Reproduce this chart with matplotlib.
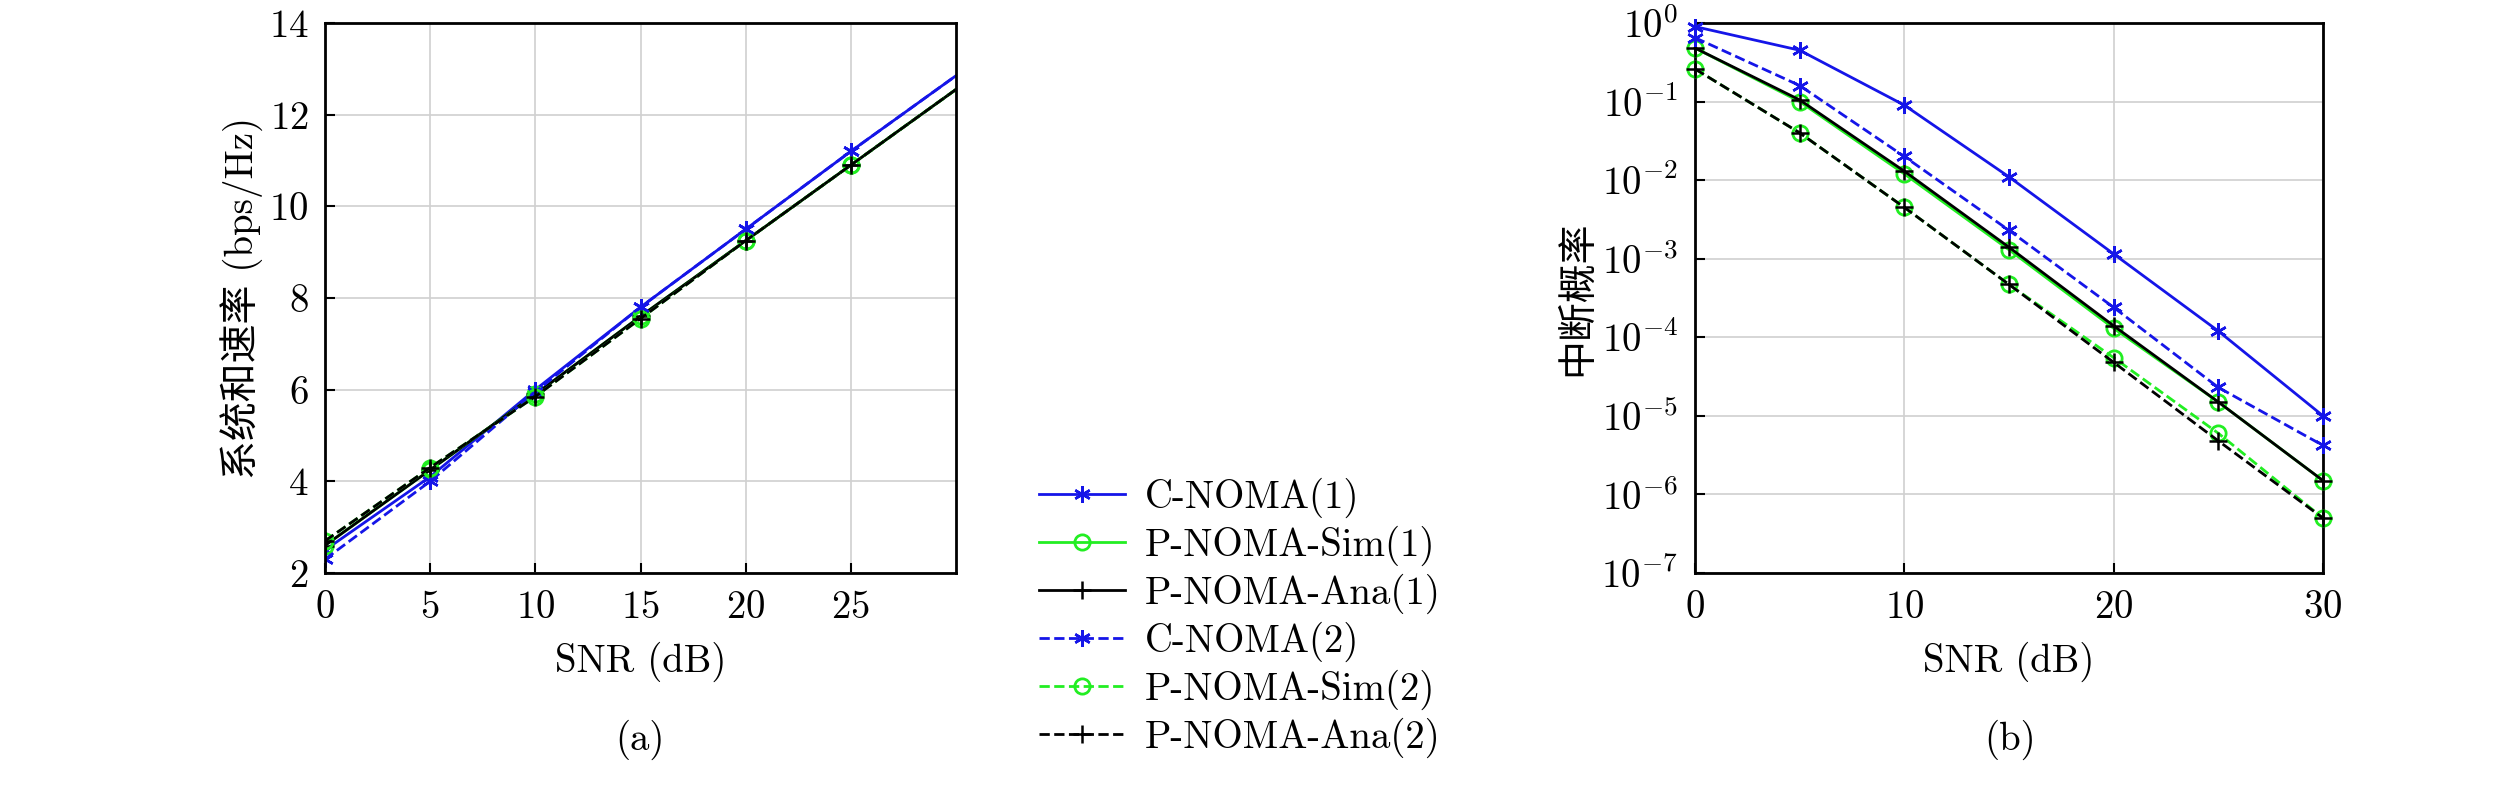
import matplotlib
matplotlib.use("Agg")
import matplotlib.pyplot as plt

plt.rcParams["font.family"] = ["cmr10", "Noto Sans CJK SC"]
plt.rcParams["mathtext.fontset"] = "cm"
plt.rcParams["axes.formatter.use_mathtext"] = True

snr = [0, 5, 10, 15, 20, 25, 30]

# (a) sum rate
rate_c1 = [2.5, 4.1, 6.0, 7.8, 9.5, 11.2, 12.85]
rate_ps1 = [2.6, 4.25, 5.9, 7.6, 9.25, 10.9, 12.55]
rate_pa1 = [2.6, 4.25, 5.9, 7.6, 9.25, 10.9, 12.55]
rate_c2 = [2.3, 4.0, 5.95, 7.8, 9.5, 11.2, 12.85]
rate_ps2 = [2.7, 4.3, 5.85, 7.55, 9.25, 10.9, 12.55]
rate_pa2 = [2.7, 4.3, 5.85, 7.55, 9.25, 10.9, 12.55]

# (b) outage probability
out_c1 = [0.9, 0.45, 0.09, 0.011, 1.15e-3, 1.2e-4, 1.0e-5]
out_ps1 = [0.48, 0.1, 0.012, 1.3e-3, 1.3e-4, 1.5e-5, 1.5e-6]
out_pa1 = [0.48, 0.105, 0.013, 1.4e-3, 1.4e-4, 1.5e-5, 1.5e-6]
out_c2 = [0.65, 0.16, 0.02, 2.3e-3, 2.4e-4, 2.3e-5, 4.2e-6]
out_ps2 = [0.26, 0.04, 4.5e-3, 4.7e-4, 5.5e-5, 6.0e-6, 5.0e-7]
out_pa2 = [0.26, 0.04, 4.5e-3, 4.7e-4, 4.8e-5, 4.8e-6, 5.0e-7]

labels = ["C-NOMA(1)", "P-NOMA-Sim(1)", "P-NOMA-Ana(1)",
          "C-NOMA(2)", "P-NOMA-Sim(2)", "P-NOMA-Ana(2)"]
styles = [
    dict(color="#1515e8", ls="-", marker=(6, 2, 0), ms=12, mew=1.8),
    dict(color="#22ee22", ls="-", marker="o", ms=11, mfc="none", mew=2),
    dict(color="black", ls="-", marker="+", ms=13, mew=1.8),
    dict(color="#1515e8", ls="--", marker=(6, 2, 0), ms=12, mew=1.8),
    dict(color="#22ee22", ls="--", marker="o", ms=11, mfc="none", mew=2),
    dict(color="black", ls="--", marker="+", ms=13, mew=1.8),
]

fig = plt.figure(figsize=(25.2, 7.87), dpi=100)
ax1 = fig.add_axes([325 / 2520, 1 - 573 / 787, 631 / 2520, 550 / 787])
ax2 = fig.add_axes([1695 / 2520, 1 - 573 / 787, 628 / 2520, 550 / 787])

fs = 28
rates = [rate_c1, rate_ps1, rate_pa1, rate_c2, rate_ps2, rate_pa2]
outs = [out_c1, out_ps1, out_pa1, out_c2, out_ps2, out_pa2]
handles = []
for r, o, lab, st in zip(rates, outs, labels, styles):
    h, = ax1.plot(snr, r, lw=2, markevery=slice(0, 6), label=lab, **st)
    ax2.plot(snr, o, lw=2, clip_on=False, zorder=3, **st)
    handles.append(h)

ax1.set_xlim(0, 30)
ax1.set_ylim(2, 14)
ax1.set_xticks([0, 5, 10, 15, 20, 25])
ax1.set_yticks(range(2, 15, 2))
ax1.set_xlabel("SNR (dB)", fontsize=fs, labelpad=12)
ax1.set_ylabel("系统和速率 (bps/Hz)", fontsize=fs)

ax2.set_yscale("log")
ax2.set_xlim(0, 30)
ax2.set_ylim(1e-7, 1)
ax2.set_xticks([0, 10, 20, 30])
ax2.set_yticks([10.0 ** k for k in range(-7, 1)])
ax2.set_xlabel("SNR (dB)", fontsize=fs, labelpad=12)
ax2.set_ylabel("中断概率", fontsize=fs)

for ax in (ax1, ax2):
    ax.grid(True, color="#d0d0d0", lw=1.2)
    ax.tick_params(labelsize=fs, direction="in", length=7, width=1.5, pad=12)
    ax.tick_params(which="minor", direction="in", length=4)
    for s in ax.spines.values():
        s.set_linewidth(2)

fig.text(640 / 2520, 1 - 750 / 787, "(a)", fontsize=fs, ha="center")
fig.text(2010 / 2520, 1 - 750 / 787, "(b)", fontsize=fs, ha="center")

fig.legend(handles=handles, loc="upper left", bbox_to_anchor=(1020 / 2520, 1 - 458 / 787),
           frameon=False, fontsize=fs, handlelength=2.2, labelspacing=0.2,
           borderpad=0, handletextpad=0.5)

fig.savefig("out.png", dpi=100)
